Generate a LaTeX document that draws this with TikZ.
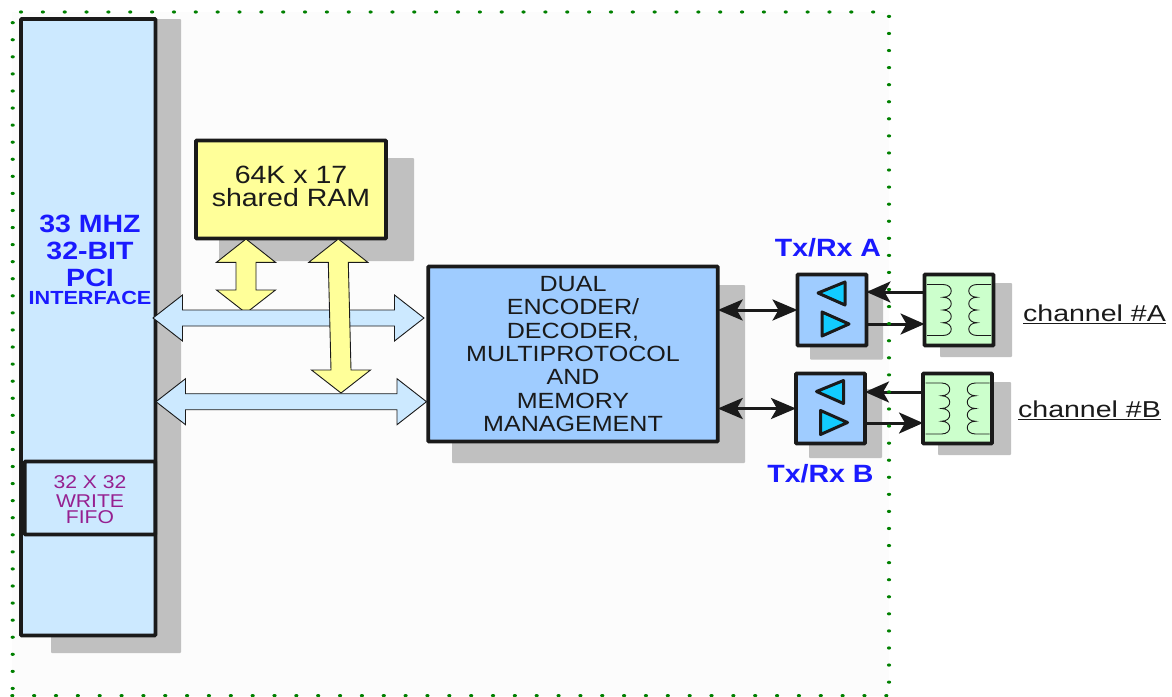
\documentclass[tikz,border=0pt]{standalone}
\usepackage{fontspec}
\setmainfont{Liberation Sans}
\newfontfamily\wide[FakeStretch=1.14]{Liberation Sans}
\newfontfamily\wider[FakeStretch=1.24]{Liberation Sans}
\usetikzlibrary{calc,arrows.meta}
\definecolor{bgc}{HTML}{FCFCFC}
\definecolor{shadowc}{HTML}{C0C0C0}
\definecolor{inkc}{HTML}{1A1A1A}
\definecolor{pcic}{HTML}{CCE9FF}
\definecolor{mainc}{HTML}{9FCCFF}
\definecolor{ramc}{HTML}{FFFF99}
\definecolor{trc}{HTML}{CCFFCC}
\definecolor{cyanc}{HTML}{12CCFF}
\definecolor{dotc}{HTML}{008000}
\definecolor{headc}{HTML}{1A1AFF}
\definecolor{fifoc}{HTML}{962090}
\tikzset{
  box/.style n args={3}{draw=inkc,fill=#1,line width=3.7pt,rounded corners=0.8pt,
    minimum width=#2,minimum height=#3,inner sep=0pt,outer sep=0pt,align=center},
  shadowbox/.style={fill=shadowc,rounded corners=0.8pt},
  blockblue/.style={draw=inkc,fill=pcic,line width=0.9pt,line join=miter},
  blockyellow/.style={draw=inkc,fill=ramc,line width=0.9pt,line join=miter},
  link/.style={draw=inkc,line width=3pt},
  dbl/.style={link,{Stealth[length=25pt,width=21pt,inset=6pt]}-{Stealth[length=25pt,width=21pt,inset=6pt]}},
  sgl/.style={link,-{Stealth[length=24pt,width=21pt,inset=6pt]}},
  tri/.style={draw=inkc,fill=cyanc,line width=3pt,line join=round},
  coil/.style={draw=inkc,line width=0.9pt},
  dotmark/.style={fill=dotc,draw=none},
  head/.style={text=headc,inner sep=0pt,font=\wide\bfseries},
}
\newcommand{\hblock}[2]{\path[blockblue] let \p1=(#1),\p2=(#2) in
  (\x1,\y1)--(\x1+29.5pt,\y1+23pt)--(\x1+29.5pt,\y1+8pt)--(\x2-29.5pt,\y1+8pt)--(\x2-29.5pt,\y1+23pt)--(\x2,\y1)
  --(\x2-29.5pt,\y1-23pt)--(\x2-29.5pt,\y1-8pt)--(\x1+29.5pt,\y1-8pt)--(\x1+29.5pt,\y1-23pt)--cycle;}
\newcommand{\vblock}[2]{\path[blockyellow] let \p1=(#1),\p2=(#2) in
  (\x1,\y1)--(\x1+29.5pt,\y1-23.3pt)--(\x1+10pt,\y1-23.3pt)--(\x2+10pt,\y2+23pt)--(\x2+29.5pt,\y2+23pt)--(\x2,\y2)
  --(\x2-29.5pt,\y2+23pt)--(\x2-10pt,\y2+23pt)--(\x1-10pt,\y1-23.3pt)--(\x1-29.5pt,\y1-23.3pt)--cycle;}
\newcommand{\coils}[1]{\begin{scope}[shift={(#1.center)}]
  \draw[coil] (-32,-25.5)--(-16,-25.5)
    .. controls (-5,-25.5) and (-5,-12.75) .. (-16,-12.75)
    .. controls (-5,-12.75) and (-5,0) .. (-16,0)
    .. controls (-5,0) and (-5,12.75) .. (-16,12.75)
    .. controls (-5,12.75) and (-5,25.5) .. (-16,25.5)--(-32,25.5);
  \draw[coil] (32,-25.5)--(18,-25.5)
    .. controls (7,-25.5) and (7,-12.75) .. (18,-12.75)
    .. controls (7,-12.75) and (7,0) .. (18,0)
    .. controls (7,0) and (7,12.75) .. (18,12.75)
    .. controls (7,12.75) and (7,25.5) .. (18,25.5)--(32,25.5);
  \end{scope}}
\newcommand{\tris}[1]{\begin{scope}[shift={(#1.center)}]
  \draw[tri] (-14,-17)--(13,-28)--(13,-5)--cycle;
  \draw[tri] (17,14)--(-10,2)--(-10,26)--cycle;
  \end{scope}}
\begin{document}
\begin{tikzpicture}[x=1pt,y=-1pt]
\useasboundingbox (0,0) rectangle (1172,696);
\fill[white] (0,0) rectangle (1172,696);
\fill[bgc] (12,12) rectangle (889,696);
% shadows
\fill[shadowbox] (51,19) rectangle (181,653);
\fill[shadowbox] (219,158) rectangle (414,261);
\fill[shadowbox] (452,285) rectangle (745,463);
\fill[shadowbox] (810,290) rectangle (883,359.5);
\fill[shadowbox] (809,389) rectangle (882,458);
\fill[shadowbox] (940,283) rectangle (1012,357);
\fill[shadowbox] (938,382) rectangle (1011,455);
% boxes
\node[box={pcic}{134.5pt}{616.5pt}] (pci) at (88.2,327.2) {};
\node[box={pcic}{130.5pt}{73pt},font=\wide\fontsize{18.5}{15.5}\selectfont,text=fifoc] (fifo) at (90,498) {\raisebox{-4pt}[\height][\depth]{\begin{tabular}{@{}c@{}}32 X 32\\[1pt]WRITE\\[-1pt]FIFO\end{tabular}}};
\node[text=headc,align=center,inner sep=0pt,font=\wide\bfseries\fontsize{25}{27}\selectfont] (pcilabel) at (90,260) {33 MHZ\\32-BIT\\PCI\\[-9pt]{\fontsize{19}{20}\selectfont INTERFACE}};
\node[box={ramc}{190pt}{98pt},font=\wide\fontsize{25}{20.5}\selectfont,text=inkc] (ram) at (291,189.5) {\begin{tabular}{@{}c@{}}64K x 17\\[-1pt]shared RAM\end{tabular}};
\node[box={mainc}{289.5pt}{175pt},font=\wide\fontsize{22}{23.4}\selectfont,text=inkc] (main) at (573,354) {DUAL\\ENCODER/\\DECODER,\\MULTIPROTOCOL\\AND\\MEMORY\\MANAGEMENT};
\node[box={mainc}{69pt}{71pt}] (txa) at (832,310) {};
\node[box={mainc}{69pt}{70pt}] (txb) at (830.5,408.5) {};
\node[box={trc}{69pt}{71pt}] (tra) at (959,310) {};
\node[box={trc}{69pt}{70pt}] (trb) at (957.5,408.5) {};
\tris{txa}
\tris{txb}
\coils{tra}
\coils{trb}
% block arrows
\coordinate (ya1) at (246,239);
\coordinate (ya2) at (246,313);
\coordinate (yb1) at (338.3,239);
\coordinate (yb2) at (341,393);
\coordinate (ba1) at (153,318);
\coordinate (ba2) at (424,318);
\coordinate (bb1) at (156,401.7);
\coordinate (bb2) at (426.5,401.7);
\vblock{ya1}{ya2}
\hblock{ba1}{ba2}
\hblock{bb1}{bb2}
\vblock{yb1}{yb2}
% connectors
\draw[dbl] (main.east |- txa.west) -- (txa.west);
\draw[dbl] (main.east |- txb.west) -- (txb.west);
\draw[sgl] ([yshift=18pt]tra.west) -- ([yshift=18pt]txa.east);
\draw[sgl] ([yshift=-14pt]txa.east) -- ([yshift=-14pt]tra.west);
\draw[sgl] ([yshift=16.5pt]trb.west) -- ([yshift=16.5pt]txb.east);
\draw[sgl] ([yshift=-14.5pt]txb.east) -- ([yshift=-14.5pt]trb.west);
% labels
\node[head,font=\wide\bfseries\fontsize{25}{25}\selectfont] (la) at (828,248) {Tx/Rx A};
\node[head,font=\wide\bfseries\fontsize{25}{25}\selectfont] (lb) at (820.5,474) {Tx/Rx B};
\node[inner sep=0pt,text=inkc,font=\wider\fontsize{23}{23}\selectfont] (cha) at (1094.5,314) {\underline{channel \#A}};
\node[inner sep=0pt,text=inkc,font=\wider\fontsize{23}{23}\selectfont] (chb) at (1089.5,410) {\underline{channel \#B}};
% dotted frame
\foreach \k in {0,...,39} {\fill[dotmark] (21+21.85*\k,12) ellipse (2.1 and 1.6);}
\foreach \k in {0,...,40} {\fill[dotmark] (12.3+21.85*\k,695.6) ellipse (2.1 and 1.6);}
\foreach \k in {0,...,39} {\fill[dotmark] (12.7,22.7+17.07*\k) ellipse (2.1 and 1.6);}
\foreach \k in {0,...,39} {\fill[dotmark] (889,16.4+17.07*\k) ellipse (2.1 and 1.6);}
\end{tikzpicture}
\end{document}
